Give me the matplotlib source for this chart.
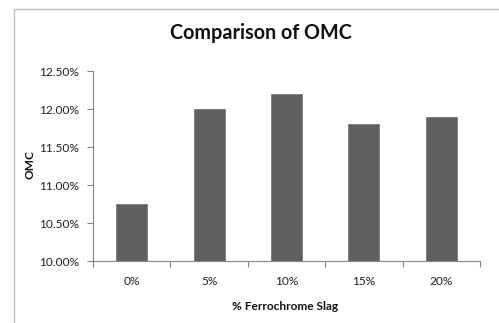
import matplotlib.pyplot as plt
from matplotlib.patches import Rectangle
from matplotlib.ticker import FuncFormatter, MultipleLocator

# OMC against ferrochrome slag content
slag = ["0%", "5%", "10%", "15%", "20%"]
omc = [10.75, 12.00, 12.20, 11.80, 11.90]

plt.rcParams['font.family'] = ['Lato', 'DejaVu Sans']

fig = plt.figure(figsize=(4.99, 3.23), dpi=100)
W, H = 499, 323

# light chart frame (runs off the right and bottom edge)
fig.patches.append(Rectangle((14 / W, -0.1), 1.2, 1 - 9 / H + 0.1,
                             transform=fig.transFigure, fill=False,
                             edgecolor="#bdbdbd", linewidth=1.0))

ax = fig.add_axes([93 / W, 1 - 261 / H, 387 / W, 190 / H])

x = range(len(slag))
ax.bar(x, omc, width=0.4, color="#606060", edgecolor="#7a7a7a", linewidth=0.6)

ax.set_xlim(-0.5, len(slag) - 0.5)
ax.set_ylim(10.0, 12.5)
ax.yaxis.set_major_locator(MultipleLocator(0.5))
ax.yaxis.set_major_formatter(FuncFormatter(lambda v, p: f"{v:.2f}%"))

ax.set_xticks([i - 0.5 for i in range(len(slag) + 1)], minor=False)
ax.set_xticklabels([])
ax.set_xticks(list(x), minor=True)
ax.set_xticklabels(slag, minor=True)
ax.tick_params(axis="x", which="minor", length=0, pad=11, labelsize=8.6, labelcolor="#222222")
ax.tick_params(axis="x", which="major", length=4, color="#868686", direction="out")
ax.tick_params(axis="y", length=4, color="#868686", direction="out", pad=6,
               labelsize=8.6, labelcolor="#222222")

for s in ["top", "right"]:
    ax.spines[s].set_visible(False)
for s in ["left", "bottom"]:
    ax.spines[s].set_color("#868686")
    ax.spines[s].set_linewidth(0.8)

fig.text(261 / W, 1 - 33 / H, "Comparison of OMC", ha="center", va="center",
         fontsize=14.2, fontweight="bold", color="#111111")
fig.text(30 / W, 1 - 165 / H, "OMC", ha="center", va="center", rotation=90,
         fontsize=8.6, fontweight="bold", color="#111111")
fig.text(285 / W, 1 - 307 / H, "% Ferrochrome Slag", ha="center", va="center",
         fontsize=8.6, fontweight="bold", color="#111111")

fig.savefig("out.png", dpi=100)
